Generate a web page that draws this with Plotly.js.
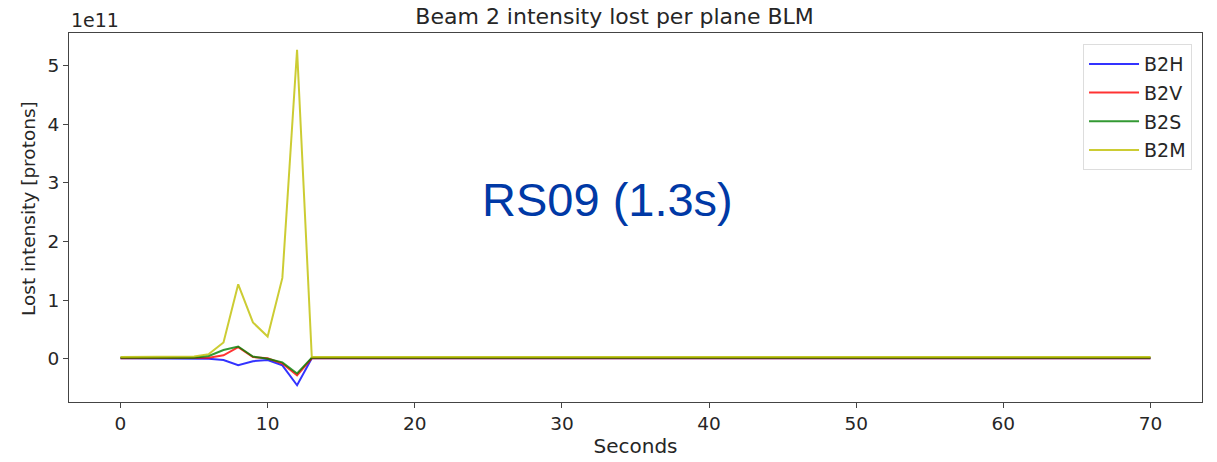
<!DOCTYPE html>
<html>
<head>
<meta charset="utf-8">
<script src="https://cdn.plot.ly/plotly-3.0.1.min.js"></script>
<style>html,body{margin:0;padding:0;background:#fff;}#chart{width:1217px;height:462px;}</style>
</head>
<body>
<div id="chart"></div>
<script>
// Seconds
const seconds = [0,1,2,3,4,5,6,7,8,9,10,11,12,13,14,15,16,17,18,19,20,21,22,23,24,25,26,27,28,29,30,31,32,33,34,35,36,37,38,39,40,41,42,43,44,45,46,47,48,49,50,51,52,53,54,55,56,57,58,59,60,61,62,63,64,65,66,67,68,69,70];
// Lost intensity, in units of 1e11 protons
const b2h = [0.01,0.01,0.01,0.01,0.01,0.01,0.00,-0.02,-0.11,-0.04,-0.02,-0.11,-0.45,0.01,
  0.01,0.01,0.01,0.01,0.01,0.01,0.01,0.01,0.01,0.01,
  0.01,0.01,0.01,0.01,0.01,0.01,0.01,0.01,0.01,0.01,
  0.01,0.01,0.01,0.01,0.01,0.01,0.01,0.01,0.01,0.01,
  0.01,0.01,0.01,0.01,0.01,0.01,0.01,0.01,0.01,0.01,
  0.01,0.01,0.01,0.01,0.01,0.01,0.01,0.01,0.01,0.01,
  0.01,0.01,0.01,0.01,0.01,0.01,0.01];
const b2v = [0.01,0.01,0.01,0.01,0.01,0.01,0.02,0.06,0.20,0.03,0.01,-0.08,-0.28,0.01,
  0.01,0.01,0.01,0.01,0.01,0.01,0.01,0.01,0.01,0.01,
  0.01,0.01,0.01,0.01,0.01,0.01,0.01,0.01,0.01,0.01,
  0.01,0.01,0.01,0.01,0.01,0.01,0.01,0.01,0.01,0.01,
  0.01,0.01,0.01,0.01,0.01,0.01,0.01,0.01,0.01,0.01,
  0.01,0.01,0.01,0.01,0.01,0.01,0.01,0.01,0.01,0.01,
  0.01,0.01,0.01,0.01,0.01,0.01,0.01];
const b2s = [0.02,0.02,0.02,0.02,0.02,0.02,0.05,0.15,0.21,0.04,0.00,-0.06,-0.25,0.02,
  0.02,0.02,0.02,0.02,0.02,0.02,0.02,0.02,0.02,0.02,
  0.02,0.02,0.02,0.02,0.02,0.02,0.02,0.02,0.02,0.02,
  0.02,0.02,0.02,0.02,0.02,0.02,0.02,0.02,0.02,0.02,
  0.02,0.02,0.02,0.02,0.02,0.02,0.02,0.02,0.02,0.02,
  0.02,0.02,0.02,0.02,0.02,0.02,0.02,0.02,0.02,0.02,
  0.02,0.02,0.02,0.02,0.02,0.02,0.02];
const b2m = [0.03,0.03,0.03,0.03,0.03,0.04,0.08,0.28,1.27,0.62,0.38,1.38,5.27,0.03,
  0.03,0.03,0.03,0.03,0.03,0.03,0.03,0.03,0.03,0.03,
  0.03,0.03,0.03,0.03,0.03,0.03,0.03,0.03,0.03,0.03,
  0.03,0.03,0.03,0.03,0.03,0.03,0.03,0.03,0.03,0.03,
  0.03,0.03,0.03,0.03,0.03,0.03,0.03,0.03,0.03,0.03,
  0.03,0.03,0.03,0.03,0.03,0.03,0.03,0.03,0.03,0.03,
  0.03,0.03,0.03,0.03,0.03,0.03,0.03];
const seriesNames = ['B2H','B2V','B2S','B2M'];
const xTicks = [0,10,20,30,40,50,60,70];
const yTicks = [0,1,2,3,4,5];

const colors = ['rgba(0,0,255,0.8)','rgba(255,0,0,0.8)','rgba(0,128,0,0.8)','rgba(191,191,0,0.8)'];
const series = [b2h,b2v,b2s,b2m];
const traces = series.map((ys,i)=>({
  x: seconds, y: ys, name: seriesNames[i], legendgroup: 'g'+i, type:'scatter', mode:'lines',
  line:{color:colors[i], width:2}
}));

const txt = '#262626';
const font = {family:'DejaVu Sans, sans-serif', size:18, color:txt};
const layout = {
  width:1217, height:462,
  margin:{l:69, r:15, t:33, b:60},
  paper_bgcolor:'#fff', plot_bgcolor:'#fff',
  font: font,
  showlegend:true,
  title:{text:'Beam 2 intensity lost per plane BLM', font:{family:'DejaVu Sans, sans-serif', size:22, color:txt}, x:0.505, xanchor:'center', y:0.965, yanchor:'middle'},
  xaxis:{
    range:[-3.5,73.5], tickvals:xTicks, ticks:'outside', ticklen:5, tickcolor:'#444',
    showline:true, mirror:true, linecolor:'#444', linewidth:1, showgrid:false, zeroline:false,
    tickfont:{size:18.5}, title:{text:'Seconds', font:{size:20}, standoff:5}
  },
  yaxis:{
    range:[-0.736,5.556], tickvals:yTicks, ticks:'outside', ticklen:5, tickcolor:'#444',
    showline:true, mirror:true, linecolor:'#444', linewidth:1, showgrid:false, zeroline:false,
    tickfont:{size:18.5}
  },
  legend:{x:0.9912, xanchor:'right', y:0.97, yanchor:'top', bordercolor:'#ddd', borderwidth:1, bgcolor:'rgba(255,255,255,0.8)', font:{size:19}, tracegroupgap:1, itemwidth:50},
  annotations:[
    {text:'1e11', xref:'paper', yref:'paper', x:0, y:1, xanchor:'left', yanchor:'bottom', showarrow:false, font:{size:19, color:txt}},
    {text:'Lost intensity [protons]', xref:'paper', yref:'paper', x:-41/1133, y:(402-209)/369, xanchor:'center', yanchor:'middle', textangle:-90, showarrow:false, font:{size:18.5, color:txt}},
    {text:'RS09 (1.3s)', xref:'paper', yref:'paper', x:0.475, y:0.55, xanchor:'center', yanchor:'middle', showarrow:false, font:{family:'Liberation Sans, Arial, sans-serif', size:47, color:'#0039a6'}}
  ]
};
Plotly.newPlot('chart', traces, layout, {displayModeBar:false, staticPlot:true});
</script>
</body>
</html>
